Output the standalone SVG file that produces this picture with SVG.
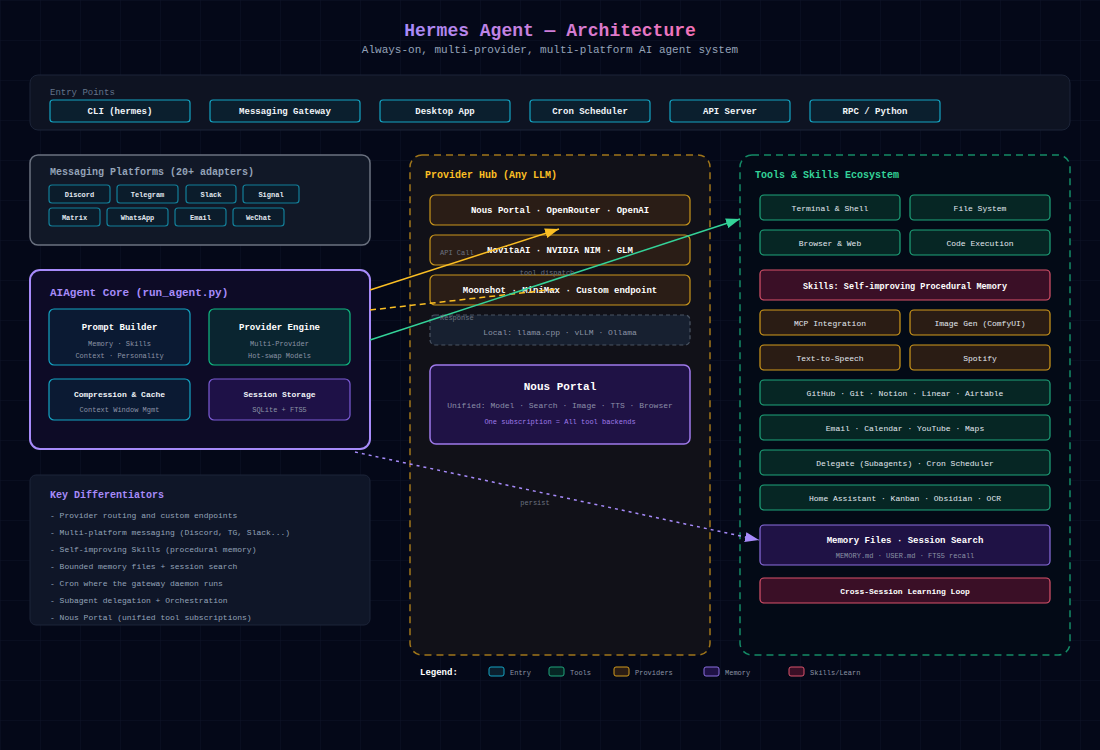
<svg xmlns="http://www.w3.org/2000/svg" width="1100" height="750" viewBox="0 0 1100 750">
<defs>
  <pattern id="grid" width="40" height="40" patternUnits="userSpaceOnUse">
    <path d="M40 0 L0 0 0 40" fill="none" stroke="#0e1428" stroke-width="1"/>
  </pattern>
  <linearGradient id="tg" x1="0" y1="0" x2="1" y2="0">
    <stop offset="0" stop-color="#a78bfa"/>
    <stop offset="1" stop-color="#f472b6"/>
  </linearGradient>
  <marker id="arO" markerUnits="userSpaceOnUse" markerWidth="14" markerHeight="10" refX="14" refY="5" orient="auto" viewBox="0 0 14 10">
    <path d="M0,0 L14,5 L0,10 z" fill="#fbbf24"/>
  </marker>
  <marker id="arG" markerUnits="userSpaceOnUse" markerWidth="14" markerHeight="10" refX="14" refY="5" orient="auto" viewBox="0 0 14 10">
    <path d="M0,0 L14,5 L0,10 z" fill="#34d399"/>
  </marker>
  <marker id="arP" markerUnits="userSpaceOnUse" markerWidth="14" markerHeight="10" refX="14" refY="5" orient="auto" viewBox="0 0 14 10">
    <path d="M0,0 L14,5 L0,10 z" fill="#a78bfa"/>
  </marker>
</defs>
<style>
  text { font-family: "Liberation Mono", "DejaVu Sans Mono", monospace; }
  .c { text-anchor: middle; }
  .b { font-weight: bold; }
  .entry { fill: #0b1f2e; stroke: #14a3c2; stroke-width: 1.2; }
  .chip { fill: #0b1c2b; stroke: #137f99; stroke-width: 1.2; }
  .ent { fill: #f1f5f9; font-size: 9px; font-weight: bold; }
  .cht { fill: #e2e8f0; font-size: 7px; font-weight: bold; }
  .prov { fill: #2a1d16; stroke: #c9961c; stroke-width: 1.2; }
  .pt { fill: #ffffff; font-size: 9px; font-weight: bold; }
  .tg { fill: #062624; stroke: #1fa47a; stroke-width: 1.2; }
  .ta { fill: #2a1c14; stroke: #d19a1c; stroke-width: 1.2; }
  .tr { fill: #3a0f26; stroke: #d9536b; stroke-width: 1.2; }
  .tp { fill: #1f1245; stroke: #8b6ee0; stroke-width: 1.2; }
  .tt { fill: #e2e8f0; font-size: 8px; }
  .sub { fill: #8b93a5; font-size: 7px; }
  .kd { fill: #94a3b8; font-size: 8px; }
  .lbl { fill: #6b7280; font-size: 7px; }
  .lg { fill: #8b93a5; font-size: 7px; }
</style>
<rect width="1100" height="750" fill="#040818"/>
<rect width="1100" height="750" fill="url(#grid)"/>

<g id="title">
  <text x="550" y="36" class="c b" font-size="18" fill="url(#tg)">Hermes Agent — Architecture</text>
  <text x="550" y="53" class="c" font-size="11" fill="#94a3b8">Always-on, multi-provider, multi-platform AI agent system</text>
</g>

<g id="entry-points">
  <rect x="30" y="75" width="1040" height="55" rx="8" fill="#0e1322" stroke="#1c2438"/>
  <text x="50" y="95" font-size="9" fill="#64748b">Entry Points</text>
  <rect class="entry" x="50" y="100" width="140" height="22" rx="3"/>
  <text class="ent c" x="120" y="114">CLI (hermes)</text>
  <rect class="entry" x="210" y="100" width="150" height="22" rx="3"/>
  <text class="ent c" x="285" y="114">Messaging Gateway</text>
  <rect class="entry" x="380" y="100" width="130" height="22" rx="3"/>
  <text class="ent c" x="445" y="114">Desktop App</text>
  <rect class="entry" x="530" y="100" width="120" height="22" rx="3"/>
  <text class="ent c" x="590" y="114">Cron Scheduler</text>
  <rect class="entry" x="670" y="100" width="120" height="22" rx="3"/>
  <text class="ent c" x="730" y="114">API Server</text>
  <rect class="entry" x="810" y="100" width="130" height="22" rx="3"/>
  <text class="ent c" x="875" y="114">RPC / Python</text>
</g>

<g id="messaging-platforms">
  <rect x="30" y="155" width="340" height="90" rx="8" fill="#111827" stroke="#6b7280" stroke-width="1.5"/>
  <text x="50" y="175" font-size="10" class="b" fill="#94a3b8">Messaging Platforms (20+ adapters)</text>
  <rect class="chip" x="49" y="185" width="61" height="18" rx="3"/><text class="cht c" x="79.5" y="196.5">Discord</text>
  <rect class="chip" x="117" y="185" width="61" height="18" rx="3"/><text class="cht c" x="147.5" y="196.5">Telegram</text>
  <rect class="chip" x="186" y="185" width="50" height="18" rx="3"/><text class="cht c" x="211" y="196.5">Slack</text>
  <rect class="chip" x="243" y="185" width="56" height="18" rx="3"/><text class="cht c" x="271" y="196.5">Signal</text>
  <rect class="chip" x="49" y="208" width="51" height="18" rx="3"/><text class="cht c" x="74.5" y="219.5">Matrix</text>
  <rect class="chip" x="107" y="208" width="61" height="18" rx="3"/><text class="cht c" x="137.5" y="219.5">WhatsApp</text>
  <rect class="chip" x="175" y="208" width="51" height="18" rx="3"/><text class="cht c" x="200.5" y="219.5">Email</text>
  <rect class="chip" x="233" y="208" width="51" height="18" rx="3"/><text class="cht c" x="258.5" y="219.5">WeChat</text>
</g>

<g id="aiagent-core">
  <rect x="30" y="270" width="340" height="179" rx="10" fill="#0d0b26" stroke="#a78bfa" stroke-width="2"/>
  <text x="50" y="296" font-size="11" class="b" fill="#a78bfa">AIAgent Core (run_agent.py)</text>
  <rect x="49" y="309" width="141" height="56" rx="5" fill="#0b1a33" stroke="#14a3c2" stroke-width="1.2"/>
  <text class="c b" x="119.5" y="330" font-size="9" fill="#ffffff">Prompt Builder</text>
  <text class="c sub" x="119.5" y="346">Memory · Skills</text>
  <text class="c sub" x="119.5" y="358">Context · Personality</text>
  <rect x="209" y="309" width="141" height="56" rx="5" fill="#0a2530" stroke="#10b981" stroke-width="1.2"/>
  <text class="c b" x="279.5" y="330" font-size="9" fill="#ffffff">Provider Engine</text>
  <text class="c sub" x="279.5" y="346">Multi-Provider</text>
  <text class="c sub" x="279.5" y="358">Hot-swap Models</text>
  <rect x="49" y="379" width="141" height="41" rx="5" fill="#0b1a33" stroke="#14a3c2" stroke-width="1.2"/>
  <text class="c b" x="119.5" y="397" font-size="8" fill="#f1f5f9">Compression &amp; Cache</text>
  <text class="c sub" x="119.5" y="412" fill="#64748b">Context Window Mgmt</text>
  <rect x="209" y="379" width="141" height="41" rx="5" fill="#1e1147" stroke="#7c5cd6" stroke-width="1.2"/>
  <text class="c b" x="279.5" y="397" font-size="8" fill="#f1f5f9">Session Storage</text>
  <text class="c sub" x="279.5" y="412" fill="#6b6f8f">SQLite + FTS5</text>
</g>

<g id="key-differentiators">
  <rect x="30" y="475" width="340" height="150" rx="6" fill="#0f1628" stroke="#1c2438"/>
  <text x="50" y="498" font-size="10" class="b" fill="#a78bfa">Key Differentiators</text>
  <text class="kd" x="50" y="518">- Provider routing and custom endpoints</text>
  <text class="kd" x="50" y="535">- Multi-platform messaging (Discord, TG, Slack...)</text>
  <text class="kd" x="50" y="552">- Self-improving Skills (procedural memory)</text>
  <text class="kd" x="50" y="569">- Bounded memory files + session search</text>
  <text class="kd" x="50" y="586">- Cron where the gateway daemon runs</text>
  <text class="kd" x="50" y="603">- Subagent delegation + Orchestration</text>
  <text class="kd" x="50" y="620">- Nous Portal (unified tool subscriptions)</text>
</g>

<g id="provider-hub">
  <rect x="410" y="155" width="300" height="500" rx="12" fill="#111118" stroke="#a0761a" stroke-width="1.5" stroke-dasharray="7,5"/>
  <text x="425" y="178" font-size="10" class="b" fill="#fbbf24">Provider Hub (Any LLM)</text>
  <rect class="prov" x="430" y="195" width="260" height="30" rx="5"/>
  <text class="pt c" x="560" y="213">Nous Portal · OpenRouter · OpenAI</text>
  <rect class="prov" x="430" y="235" width="260" height="30" rx="5"/>
  <text class="pt c" x="560" y="253">NovitaAI · NVIDIA NIM · GLM</text>
  <rect class="prov" x="430" y="275" width="260" height="30" rx="5"/>
  <text class="pt c" x="560" y="293">Moonshot · MiniMax · Custom endpoint</text>
  <rect x="430" y="315" width="260" height="30" rx="5" fill="#172030" stroke="#4b5563" stroke-width="1.2" stroke-dasharray="4,3"/>
  <text class="c" x="560" y="335" font-size="8" fill="#8b93a5">Local: llama.cpp · vLLM · Ollama</text>
  <rect x="430" y="365" width="260" height="79" rx="6" fill="#1f1245" stroke="#9f7aea" stroke-width="1.5"/>
  <text class="c b" x="560" y="390" font-size="11" fill="#ffffff">Nous Portal</text>
  <text class="c" x="560" y="408" font-size="8" fill="#8b8fa8">Unified: Model · Search · Image · TTS · Browser</text>
  <text class="c" x="560" y="424" font-size="7" fill="#9f7aea">One subscription = All tool backends</text>
</g>

<g id="tools-skills">
  <rect x="740" y="155" width="330" height="500" rx="12" fill="#030a16" stroke="#148a66" stroke-width="1.5" stroke-dasharray="7,5"/>
  <text x="755" y="178" font-size="10" class="b" fill="#34d399">Tools &amp; Skills Ecosystem</text>
  <rect class="tg" x="760" y="195" width="140" height="25" rx="4"/><text class="tt c" x="830" y="211">Terminal &amp; Shell</text>
  <rect class="tg" x="910" y="195" width="140" height="25" rx="4"/><text class="tt c" x="980" y="211">File System</text>
  <rect class="tg" x="760" y="230" width="140" height="25" rx="4"/><text class="tt c" x="830" y="246">Browser &amp; Web</text>
  <rect class="tg" x="910" y="230" width="140" height="25" rx="4"/><text class="tt c" x="980" y="246">Code Execution</text>
  <rect class="tr" x="760" y="270" width="290" height="30" rx="4"/><text class="c b" x="905" y="289" font-size="8.5" fill="#ffffff">Skills: Self-improving Procedural Memory</text>
  <rect class="ta" x="760" y="310" width="140" height="25" rx="4"/><text class="tt c" x="830" y="326">MCP Integration</text>
  <rect class="ta" x="910" y="310" width="140" height="25" rx="4"/><text class="tt c" x="980" y="326">Image Gen (ComfyUI)</text>
  <rect class="ta" x="760" y="345" width="140" height="25" rx="4"/><text class="tt c" x="830" y="361">Text-to-Speech</text>
  <rect class="ta" x="910" y="345" width="140" height="25" rx="4"/><text class="tt c" x="980" y="361">Spotify</text>
  <rect class="tg" x="760" y="380" width="290" height="25" rx="4"/><text class="tt c" x="905" y="396">GitHub · Git · Notion · Linear · Airtable</text>
  <rect class="tg" x="760" y="415" width="290" height="25" rx="4"/><text class="tt c" x="905" y="431">Email · Calendar · YouTube · Maps</text>
  <rect class="tg" x="760" y="450" width="290" height="25" rx="4"/><text class="tt c" x="905" y="466">Delegate (Subagents) · Cron Scheduler</text>
  <rect class="tg" x="760" y="485" width="290" height="25" rx="4"/><text class="tt c" x="905" y="501">Home Assistant · Kanban · Obsidian · OCR</text>
  <rect class="tp" x="760" y="525" width="290" height="40" rx="4"/>
  <text class="c b" x="905" y="543" font-size="9" fill="#ffffff">Memory Files · Session Search</text>
  <text class="c sub" x="905" y="558" fill="#6b6f8f">MEMORY.md · USER.md · FTS5 recall</text>
  <rect class="tr" x="760" y="578" width="290" height="25" rx="4"/><text class="c b" x="905" y="594" font-size="8" fill="#ffffff">Cross-Session Learning Loop</text>
</g>

<g id="connectors">
  <line x1="370" y1="290" x2="559" y2="229" stroke="#fbbf24" stroke-width="1.5" marker-end="url(#arO)"/>
  <line x1="370" y1="310" x2="557" y2="289" stroke="#fbbf24" stroke-width="1.5" stroke-dasharray="6,4"/>
  <line x1="370" y1="340" x2="740" y2="219" stroke="#34d399" stroke-width="1.5" marker-end="url(#arG)"/>
  <line x1="355" y1="452" x2="759" y2="540" stroke="#a78bfa" stroke-width="1.5" stroke-dasharray="3,4" marker-end="url(#arP)"/>
  <text class="lbl" x="440" y="255">API Call</text>
  <text class="lbl c" x="547" y="275">tool dispatch</text>
  <text class="lbl" x="440" y="320">Response</text>
  <text class="lbl c" x="535" y="505">persist</text>
</g>

<g id="legend">
  <text x="420" y="675" font-size="9" class="b" fill="#ffffff">Legend:</text>
  <rect x="489" y="667" width="15" height="9" rx="2" fill="#0b1f2e" stroke="#14a3c2"/>
  <text class="lg" x="510" y="675">Entry</text>
  <rect x="549" y="667" width="15" height="9" rx="2" fill="#062624" stroke="#1fa47a"/>
  <text class="lg" x="570" y="675">Tools</text>
  <rect x="614" y="667" width="15" height="9" rx="2" fill="#2a1c14" stroke="#d19a1c"/>
  <text class="lg" x="635" y="675">Providers</text>
  <rect x="704" y="667" width="15" height="9" rx="2" fill="#1f1245" stroke="#8b6ee0"/>
  <text class="lg" x="725" y="675">Memory</text>
  <rect x="789" y="667" width="15" height="9" rx="2" fill="#3a0f26" stroke="#d9536b"/>
  <text class="lg" x="810" y="675">Skills/Learn</text>
</g>
</svg>
